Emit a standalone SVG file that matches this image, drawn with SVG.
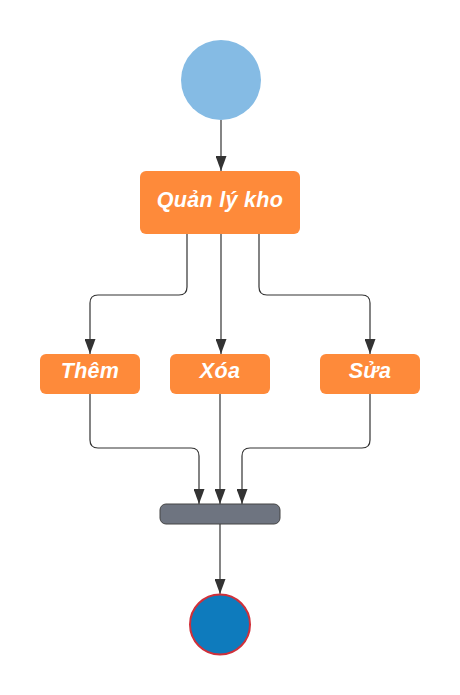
<svg xmlns="http://www.w3.org/2000/svg" width="460" height="695" viewBox="0 0 460 695">
<defs>
<style>
.act{fill:#fe8a3a;}
.lbl{fill:#ffffff;font-family:"Liberation Sans",Arial,sans-serif;font-weight:bold;font-style:italic;text-anchor:middle;font-size:21.5px;letter-spacing:0.3px;}
.edge{fill:none;stroke:#333333;stroke-width:1.2;marker-end:url(#arr);}
</style>
<marker id="arr" viewBox="0 0 15 11" refX="15" refY="5.5" markerWidth="15" markerHeight="11" orient="auto" markerUnits="userSpaceOnUse">
<path d="M0,0 L15,5.5 L0,11 Z" fill="#333333"/>
</marker>
</defs>
<rect width="460" height="695" fill="#ffffff"/>
<g id="connectors">
<path class="edge" d="M221,120 V171"/>
<path class="edge" d="M187,234 V287 Q187,295 179,295 H98 Q90,295 90,303 V354"/>
<path class="edge" d="M221,234 V354"/>
<path class="edge" d="M259,234 V287 Q259,295 267,295 H362 Q370,295 370,303 V354"/>
<path class="edge" d="M90,394 V440 Q90,448 98,448 H191 Q199,448 199,456 V504"/>
<path class="edge" d="M220,394 V504"/>
<path class="edge" d="M370,394 V440 Q370,448 362,448 H250 Q242,448 242,456 V504"/>
<path class="edge" d="M220,524 V594"/>
</g>
<g id="start"><circle cx="221" cy="80" r="40" fill="#85bbe4"/></g>
<g id="quanlykho"><rect class="act" x="140" y="171" width="160" height="63" rx="6"/><text class="lbl" x="220" y="207">Quản lý kho</text></g>
<g id="them"><rect class="act" x="40" y="354" width="100" height="40" rx="6"/><text class="lbl" x="90" y="378">Thêm</text></g>
<g id="xoa"><rect class="act" x="170" y="354" width="100" height="40" rx="6"/><text class="lbl" x="220" y="378">Xóa</text></g>
<g id="sua"><rect class="act" x="320" y="354" width="100" height="40" rx="6"/><text class="lbl" x="370" y="378">Sửa</text></g>
<g id="join"><rect x="160" y="504" width="120" height="20" rx="6" fill="#6e7480" stroke="#444444" stroke-width="1"/></g>
<g id="end"><circle cx="220" cy="624.5" r="30" fill="#0e7bbd" stroke="#d0303a" stroke-width="2"/></g>
</svg>
